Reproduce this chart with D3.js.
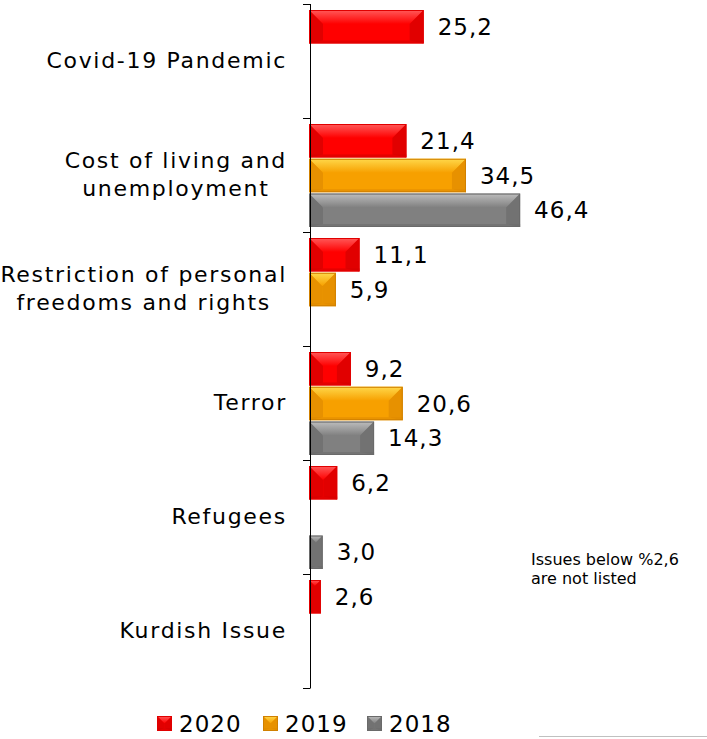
<!DOCTYPE html>
<html>
<head>
<meta charset="utf-8">
<script src="https://cdn.jsdelivr.net/npm/d3@7"></script>
<style>
  body { margin: 0; background: #fff; }
  svg { display: block; font-family: 'DejaVu Sans', Verdana, sans-serif; }
</style>
</head>
<body>
<div id="chart"></div>
<script>
// chart data
const categories = ['Covid-19 Pandemic', 'Cost of living and\nunemployment',
  'Restriction of personal\nfreedoms and rights', 'Terror', 'Refugees', 'Kurdish Issue'];
const years = ['2020', '2019', '2018'];
const values2020 = [25.2, 21.4, 11.1, 9.2, 6.2, 2.6];
const values2019 = [null, 34.5, 5.9, 20.6, null, null];
const values2018 = [null, 46.4, null, 14.3, 3.0, null];
const noteLines = ['Issues below %2,6', 'are not listed'];

const width = 707, height = 739;
const svg = d3.select('#chart').append('svg')
    .attr('width', width).attr('height', height);

// colours per year: base, light (top bevel), dark (side bevel), outline
const palette = {
  '2020': {base: '#ff0000', light: '#ff5a5a', dark: '#d40000', edge: '#e00000'},
  '2019': {base: '#f7a000', light: '#ffd84a', dark: '#e08a00', edge: '#d08000'},
  '2018': {base: '#808080', light: '#bdbdbd', dark: '#6c6c6c', edge: '#6a6a6a'}
};

const defs = svg.append('defs');
years.forEach(function(yr) {
  let grad = defs.append('linearGradient').attr('id', 'top' + yr)
      .attr('x1', 0).attr('y1', 0).attr('x2', 0).attr('y2', 1);
  grad.append('stop').attr('offset', '0%').attr('stop-color', palette[yr].light);
  grad.append('stop').attr('offset', '100%').attr('stop-color', palette[yr].base);
});

const y = d3.scaleBand().domain(categories).range([4, 688]);
const ySub = d3.scaleBand().domain(years).range([6, 109]).paddingInner(0.04);
const x = d3.scaleLinear().domain([0, 50]).range([309, 309 + 50 * 4.55]);

// bevelled bar, like the office 3D preset
function drawBevelBar(g, x0, y0, w, h, yr) {
  const c = palette[yr];
  const x1 = x0 + w, y1 = y0 + h;
  const b = Math.min(14, w / 2);
  const ym = y0 + Math.min(b, h / 2);
  g.append('rect').attr('x', x0).attr('y', y0).attr('width', w).attr('height', h)
      .attr('fill', c.base);
  g.append('polygon')
      .attr('points', [[x0, y0], [x1, y0], [x1 - b, ym], [x0 + b, ym]].join(' '))
      .attr('fill', 'url(#top' + yr + ')');
  g.append('polygon')
      .attr('points', [[x0, y0], [x0 + b, ym], [x0 + b, y1 - 3], [x0, y1]].join(' '))
      .attr('fill', c.dark).attr('opacity', 0.7);
  g.append('polygon')
      .attr('points', [[x1, y0], [x1 - b, ym], [x1 - b, y1 - 3], [x1, y1]].join(' '))
      .attr('fill', c.dark).attr('opacity', 0.7);
  g.append('rect').attr('x', x0).attr('y', y1 - 3).attr('width', w).attr('height', 3)
      .attr('fill', c.dark).attr('opacity', 0.6);
  g.append('rect').attr('x', x0 + 0.5).attr('y', y0 + 0.5)
      .attr('width', Math.max(0, w - 1)).attr('height', h - 1)
      .attr('fill', 'none').attr('stroke', c.edge).attr('stroke-width', 1);
}

const series = {'2020': values2020, '2019': values2019, '2018': values2018};
const bars = svg.append('g').attr('class', 'bars');

categories.forEach(function(cat, i) {
  years.forEach(function(yr) {
    const v = series[yr][i];
    if (v === null) return;
    const top = y(cat) + ySub(yr);
    const h = ySub.bandwidth();
    drawBevelBar(bars, x(0), top, x(v) - x(0), h, yr);
    bars.append('text')
        .attr('x', x(v) + 14)
        .attr('y', top + h / 2 + 8)
        .attr('font-size', 23)
        .attr('letter-spacing', 1)
        .attr('fill', '#000')
        .text(v.toFixed(1).replace('.', ','));
  });
});

// axis line with band-boundary ticks
const axis = svg.append('g').attr('class', 'yaxis');
axis.append('line').attr('x1', 310.5).attr('x2', 310.5)
    .attr('y1', y.range()[0]).attr('y2', y.range()[1])
    .attr('stroke', '#000').attr('stroke-width', 1);
const tickYs = categories.map(c => y(c)).concat([y.range()[1]]);
axis.selectAll('line.tick').data(tickYs).enter().append('line')
    .attr('class', 'tick')
    .attr('x1', 303).attr('x2', 310.5)
    .attr('y1', d => Math.round(d) + 0.5).attr('y2', d => Math.round(d) + 0.5)
    .attr('stroke', '#000');

// category labels: lines centered on each other, block right-aligned
const labels = svg.append('g').attr('class', 'catLabels');
categories.forEach(function(cat) {
  const lines = cat.split('\n');
  const g = labels.append('g');
  const lineH = 28;
  const mid = y(cat) + y.bandwidth() / 2;
  const texts = lines.map(function(line, j) {
    return g.append('text')
        .attr('y', mid + 7 + (j - (lines.length - 1) / 2) * lineH)
        .attr('font-size', 22)
        .attr('letter-spacing', 1.7)
        .attr('text-anchor', 'middle')
        .text(line);
  });
  const maxW = d3.max(texts, t => t.node().getComputedTextLength());
  texts.forEach(t => t.attr('x', 287 - maxW / 2));
});

// note
svg.append('g').selectAll('text').data(noteLines).enter().append('text')
    .attr('x', 531).attr('y', (d, i) => 565 + i * 19)
    .attr('font-size', 16)
    .text(d => d);

// legend
const legend = svg.append('g').attr('class', 'legend');
const legendX = [157, 263, 367];
years.forEach(function(yr, i) {
  drawBevelBar(legend, legendX[i], 716, 15, 15, yr);
  legend.append('text')
      .attr('x', legendX[i] + 22).attr('y', 732)
      .attr('font-size', 23)
      .attr('letter-spacing', 1)
      .text(yr);
});

svg.append('line').attr('x1', 539).attr('x2', 707).attr('y1', 736.5).attr('y2', 736.5)
    .attr('stroke', '#c0c0c0');
</script>
</body>
</html>
